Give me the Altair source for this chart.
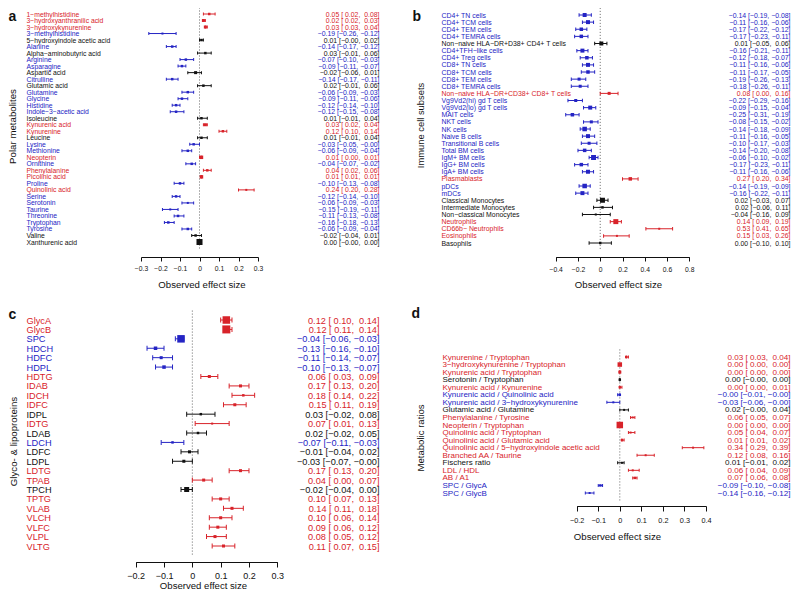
import json
import altair as alt
import pandas as pd

W, H = 783, 583
FONT = "Liberation Sans"
RED, BLUE, BLACK = "#d8232a", "#2424c4", "#111111"
CATS = ["up", "down", "ns"]
MINUS, NBSP = "\u2212", "\u00a0"

# ---------------- panel a : polar metabolites ----------------
a_names = ["1-methylhistidine", "3-hydroxyanthranilic acid", "3-hydroxykynurenine", "3-methylhistidine",
           "5-hydroxyindole acetic acid", "Alanine", "Alpha-aminobutyric acid", "Arginine", "Asparagine",
           "Aspartic acid", "Citrulline", "Glutamic acid", "Glutamine", "Glycine", "Histidine",
           "Indole-3-acetic acid", "Isoleucine", "Kynurenic acid", "Kynurenine", "Leucine", "Lysine",
           "Methionine", "Neopterin", "Ornithine", "Phenylalanine", "Picolinic acid", "Proline",
           "Quinolinic acid", "Serine", "Serotonin", "Taurine", "Threonine", "Tryptophan", "Tyrosine",
           "Valine", "Xanthurenic acid"]
a_est = [0.05, 0.02, 0.03, -0.19, 0.01, -0.14, 0.03, -0.07, -0.09, -0.02, -0.14, 0.02, -0.06, -0.09, -0.12,
         -0.12, 0.01, 0.03, 0.12, 0.01, -0.03, -0.06, 0.01, -0.04, 0.04, 0.01, -0.10, 0.24, -0.12, -0.06,
         -0.15, -0.11, -0.16, -0.06, -0.02, 0.00]
a_lo = [0.02, 0.02, 0.03, -0.26, -0.0, -0.17, -0.01, -0.10, -0.11, -0.06, -0.17, -0.01, -0.09, -0.11, -0.14,
        -0.15, -0.01, 0.02, 0.10, -0.01, -0.05, -0.09, 0.00, -0.07, 0.02, 0.01, -0.13, 0.20, -0.14, -0.09,
        -0.19, -0.13, -0.18, -0.09, -0.04, -0.0]
a_hi = [0.08, 0.03, 0.04, -0.12, 0.02, -0.12, 0.06, -0.03, -0.07, 0.01, -0.11, 0.06, -0.03, -0.06, -0.10,
        -0.08, 0.04, 0.04, 0.14, 0.04, -0.0, -0.04, 0.01, -0.02, 0.06, 0.01, -0.08, 0.28, -0.10, -0.03,
        -0.11, -0.08, -0.13, -0.04, 0.01, 0.00]
a_cat = ["up", "up", "up", "down", "ns", "down", "ns", "down", "down", "ns", "down", "ns", "down", "down",
         "down", "down", "ns", "up", "up", "ns", "down", "down", "up", "down", "up", "up", "down", "up",
         "down", "down", "down", "down", "down", "down", "ns", "ns"]
a_w = [0.08, 0.17, 0.17, 0.0, 0.08, 0.08, 0.08, 0.08, 0.08, 0.17, 0.08, 0.08, 0.08, 0.08, 0.08, 0.08, 0.08,
       0.17, 0.08, 0.08, 0.08, 0.08, 0.25, 0.08, 0.08, 0.25, 0.08, 0.0, 0.08, 0.0, 0.0, 0.08, 0.08, 0.08,
       0.08, 0.67]

# ---------------- panel b : immune cell subsets ----------------
b_names = ["CD4+ TN cells", "CD4+ TCM cells", "CD4+ TEM cells", "CD4+ TEMRA cells",
           "Non-naive HLA-DR+D38+ CD4+ T cells", "CD4+TFH-like cells", "CD4+ Treg cells", "CD8+ TN cells",
           "CD8+ TCM cells", "CD8+ TEM cells", "CD8+ TEMRA cells", "Non-naive HLA-DR+CD38+ CD8+ T cells",
           "Vg9Vd2(hi) gd T cells", "Vg9Vd2(lo) gd T cells", "MAIT cells", "NKT cells", "NK cells",
           "Naive B cells", "Transitional B cells", "Total BM cells", "IgM+ BM cells", "IgG+ BM cells",
           "IgA+ BM cells", "Plasmablasts", "pDCs", "mDCs", "Classical Monocytes", "Intermediate Monocytes",
           "Non-classical Monocytes", "Neutrophils", "CD66b- Neutrophils", "Eosinophils", "Basophils"]
b_est = [-0.14, -0.11, -0.17, -0.17, 0.01, -0.16, -0.12, -0.11, -0.11, -0.19, -0.18, 0.08, -0.22, -0.09,
         -0.25, -0.08, -0.14, -0.11, -0.10, -0.14, -0.06, -0.17, -0.11, 0.27, -0.14, -0.16, 0.02, 0.02,
         -0.04, 0.14, 0.53, 0.15, 0.00]
b_lo = [-0.19, -0.16, -0.22, -0.23, -0.05, -0.21, -0.18, -0.16, -0.17, -0.26, -0.26, 0.00, -0.29, -0.15,
        -0.31, -0.15, -0.18, -0.16, -0.17, -0.20, -0.10, -0.23, -0.16, 0.20, -0.19, -0.22, -0.03, -0.06,
        -0.16, 0.09, 0.41, 0.03, -0.10]
b_hi = [-0.08, -0.06, -0.12, -0.11, 0.06, -0.11, -0.07, -0.06, -0.05, -0.13, -0.11, 0.16, -0.16, -0.04,
        -0.19, -0.02, -0.09, -0.05, -0.03, -0.08, -0.02, -0.11, -0.06, 0.34, -0.09, -0.11, 0.07, 0.11,
        0.09, 0.19, 0.65, 0.26, 0.10]
b_cat = ["down"] * 4 + ["ns"] + ["down"] * 6 + ["up"] + ["down"] * 11 + ["up"] + ["down"] * 2 + \
        ["ns"] * 3 + ["up"] * 3 + ["ns"]
b_w = [0.33, 0.33, 0.25, 0.25, 0.33, 0.33, 0.25, 0.33, 0.25, 0.17, 0.17, 0.17, 0.17, 0.33, 0.25, 0.17,
       0.42, 0.33, 0.17, 0.25, 0.5, 0.25, 0.33, 0.25, 0.42, 0.33, 0.5, 0.08, 0.0, 0.5, 0.0, 0.0, 0.08]

# ---------------- panel c : glyco- & lipoproteins ----------------
c_names = ["GlycA", "GlycB", "SPC", "HDCH", "HDFC", "HDPL", "HDTG", "IDAB", "IDCH", "IDFC", "IDPL", "IDTG",
           "LDAB", "LDCH", "LDFC", "LDPL", "LDTG", "TPAB", "TPCH", "TPTG", "VLAB", "VLCH", "VLFC", "VLPL",
           "VLTG"]
c_est = [0.12, 0.12, -0.04, -0.13, -0.11, -0.10, 0.06, 0.17, 0.18, 0.15, 0.03, 0.07, 0.02, -0.07, -0.01,
         -0.03, 0.17, 0.04, -0.02, 0.10, 0.14, 0.10, 0.09, 0.08, 0.11]
c_lo = [0.10, 0.11, -0.06, -0.16, -0.14, -0.13, 0.03, 0.13, 0.14, 0.11, -0.02, 0.01, -0.02, -0.11, -0.04,
        -0.07, 0.13, 0.00, -0.04, 0.07, 0.11, 0.06, 0.06, 0.05, 0.07]
c_hi = [0.14, 0.14, -0.03, -0.10, -0.07, -0.07, 0.09, 0.20, 0.22, 0.19, 0.08, 0.13, 0.05, -0.03, 0.02,
        -0.0, 0.20, 0.07, 0.00, 0.13, 0.18, 0.14, 0.12, 0.12, 0.15]
c_cat = ["up", "up", "down", "down", "down", "down", "up", "up", "up", "up", "ns", "up", "ns", "down", "ns",
         "ns", "up", "up", "ns", "up", "up", "up", "up", "up", "up"]
c_w = [0.92, 1.0, 0.92, 0.25, 0.17, 0.25, 0.17, 0.17, 0.08, 0.17, 0.08, 0.0, 0.08, 0.08, 0.17, 0.17, 0.17,
       0.17, 0.5, 0.17, 0.17, 0.17, 0.17, 0.17, 0.17]

# ---------------- panel d : metabolic ratios ----------------
d_names = ["Kynurenine / Tryptophan", "3-hydroxykynurenine / Tryptophan", "Kynurenic acid / Tryptophan",
           "Serotonin / Tryptophan", "Kynurenic acid / Kynurenine", "Kynurenic acid / Quinolinic acid",
           "Kynurenic acid / 3-hydroxykynurenine", "Glutamic acid / Glutamine", "Phenylalanine / Tyrosine",
           "Neopterin / Tryptophan", "Quinolinic acid / Tryptophan", "Quinolinic acid / Glutamic acid",
           "Quinolinic acid / 5-hydroxyindole acetic acid", "Branched AA / Taurine", "Fischers ratio",
           "LDL / HDL", "AB / A1", "SPC / GlycA", "SPC / GlycB"]
d_est = [0.03, 0.00, 0.00, 0.00, 0.00, -0.0, -0.03, 0.02, 0.06, 0.00, 0.05, 0.01, 0.34, 0.12, 0.01, 0.06,
         0.07, -0.09, -0.14]
d_lo = [0.03, 0.00, 0.00, -0.0, 0.00, -0.01, -0.06, -0.0, 0.05, 0.00, 0.04, 0.01, 0.29, 0.08, -0.01, 0.04,
        0.06, -0.10, -0.16]
d_hi = [0.04, 0.00, 0.00, 0.00, 0.01, -0.0, -0.0, 0.04, 0.07, 0.00, 0.07, 0.02, 0.39, 0.16, 0.02, 0.09,
        0.08, -0.08, -0.12]
d_cat = ["up", "up", "up", "ns", "up", "down", "down", "ns", "up", "up", "up", "up", "up", "up", "ns", "up",
         "up", "down", "down"]
d_w = [0.08, 0.42, 0.17, 0.08, 0.08, 0.08, 0.0, 0.0, 0.0, 0.75, 0.0, 0.08, 0.0, 0.0, 0.0, 0.0, 0.08, 0.08, 0.0]


def fmt(v, pad):
    s = f"{v:.2f}".replace("-", MINUS)
    return s if (not pad or s.startswith(MINUS)) else NBSP + s


def js(lst):
    return json.dumps(lst, ensure_ascii=False)


def panel(names, est, lo, hi, cat, w, P):
    n = len(names)
    rows = list(range(1, n + 1))
    df = pd.DataFrame(dict(row=rows, est=est, lo=lo, hi=hi, cat=cat, w=w))
    zdf = pd.DataFrame({"x": [0.0], "y0": [0], "y1": [n + 1]})
    labels = [nm.replace("-", MINUS) for nm in names]
    vals = [f"{fmt(e, False)} [{fmt(l, True)}, {fmt(h, True)}]" for e, l, h in zip(est, lo, hi)]
    sp = (P["rowN"] - P["row1"]) / (n - 1)
    ys = alt.Scale(domain=[0, n + 1], range=[P["row1"] - sp, P["rowN"] + sp], nice=False, zero=False)
    xs = alt.Scale(domain=P["xdom"], range=P["xr"], nice=False, zero=False)
    col = alt.Color("cat:N", scale=alt.Scale(domain=CATS, range=[RED, BLUE, BLACK]), legend=None)

    red_rows = [r for r, c in zip(rows, cat) if c == "up"]
    blue_rows = [r for r, c in zip(rows, cat) if c == "down"]
    lab_color = {"condition": [
        {"test": f"indexof({js(red_rows)}, datum.value) >= 0", "value": RED},
        {"test": f"indexof({js(blue_rows)}, datum.value) >= 0", "value": BLUE}],
        "value": BLACK}

    common = dict(grid=False, labelOverlap=False, labelFlush=False, labelLimit=0, labelFont=FONT,
                  titleFont=FONT, titleColor=BLACK, titleFontWeight="normal")

    xaxis = alt.Axis(orient="bottom", offset=P["axy"] - H, values=P["ticks"], format="~g",
                     domainColor=BLACK, tickColor=BLACK, domainWidth=1, tickWidth=1, tickSize=P["tick"],
                     labelPadding=P["xlp"], labelFontSize=P["xfs"], labelColor=BLACK, labelBaseline="top",
                     labelAlign="center", title="Observed effect size", titleFontSize=9.6,
                     titleX=P["xtx"], titleY=P["xty"] - P["axy"], titleAlign="center",
                     titleBaseline="middle", titleAngle=0, **common)
    naxis = alt.Axis(orient="left", offset=-P["xr"][0], values=rows,
                     labelExpr=f"{js(labels)}[datum.value - 1]", labelAlign="left", labelBaseline="middle",
                     labelPadding=P["xr"][0] - P["namex"], labelFontSize=P["nfs"], labelColor=lab_color,
                     domain=False, ticks=False, tickSize=0, title=P["ytitle"], titleAngle=270,
                     titleX=P["ytx"] - P["xr"][0], titleY=P["yty"], titleFontSize=P["ytfs"],
                     titleAlign="center", titleBaseline="middle", **common)
    vaxis = alt.Axis(orient="right", offset=P["valx"] - W, values=rows,
                     labelExpr=f"{js(vals)}[datum.value - 1]", labelAlign="right", labelBaseline="middle",
                     labelPadding=0, labelFontSize=P["vfs"], labelColor=lab_color,
                     domain=False, ticks=False, tickSize=0, title=P["letter"], titleAngle=0,
                     titleX=P["letx"] - P["valx"], titleY=P["lety"], titleFontSize=14,
                     titleAlign="left", titleBaseline="alphabetic",
                     **{**common, "titleFontWeight": "bold"})

    zero = alt.Chart(zdf).mark_rule(color="#555555", strokeDash=[1, 2], strokeWidth=0.9).encode(
        x=alt.X("x:Q", scale=xs, axis=xaxis), y=alt.Y("y0:Q", scale=ys, axis=None), y2="y1:Q")
    bars = alt.Chart(df).mark_rule(strokeWidth=1).encode(
        x=alt.X("lo:Q", scale=xs, axis=xaxis), x2="hi:Q",
        y=alt.Y("row:Q", scale=ys, axis=None), color=col)
    caplo = alt.Chart(df).mark_tick(orient="vertical", size=P["cap"], thickness=1, opacity=1).encode(
        x=alt.X("lo:Q", scale=xs, axis=xaxis), y=alt.Y("row:Q", scale=ys, axis=None), color=col)
    caphi = alt.Chart(df).mark_tick(orient="vertical", size=P["cap"], thickness=1, opacity=1).encode(
        x=alt.X("hi:Q", scale=xs, axis=xaxis), y=alt.Y("row:Q", scale=ys, axis=vaxis), color=col)
    sq = alt.Chart(df).transform_calculate(area="pow(2 + 6 * datum.w, 2)").mark_square(
        filled=True, opacity=1).encode(
        x=alt.X("est:Q", scale=xs, axis=xaxis), y=alt.Y("row:Q", scale=ys, axis=naxis), color=col,
        size=alt.Size("area:Q", scale=None))
    return alt.layer(zero, bars, caplo, caphi, sq).resolve_axis(y="independent")


Pa = dict(xdom=[-0.3, 0.3], xr=[133, 250], ticks=[-0.3, -0.2, -0.1, 0, 0.1, 0.2, 0.3], row1=6, rowN=234,
          axy=249, tick=4, xlp=4.4, xfs=6.75, xtx=193.5, xty=276, namex=18, nfs=6.8,
          ytitle="Polar metabolites", ytx=4.5, yty=118, ytfs=9.7, valx=371, vfs=6.9,
          letter="a", letx=0, lety=12, cap=3)
Pb = dict(xdom=[-0.4, 0.8], xr=[547.7, 681.3], ticks=[-0.4, -0.2, 0, 0.2, 0.4, 0.6, 0.8], row1=7, rowN=235,
          axy=249, tick=4, xlp=5.4, xfs=6.75, xtx=610, xty=276, namex=433, nfs=6.9,
          ytitle="Immune cell subsets", ytx=412, yty=117, ytfs=9.4, valx=782, vfs=6.9,
          letter="b", letx=404, lety=12, cap=3.5)
Pc = dict(xdom=[-0.2, 0.3], xr=[127.7, 269.3], ticks=[-0.2, -0.1, 0, 0.1, 0.2, 0.3], row1=312, rowN=538,
          axy=554, tick=5, xlp=4.2, xfs=9, xtx=195, xty=577, namex=18, nfs=9.2,
          ytitle="Glyco- & lipoproteins", ytx=5, yty=433, ytfs=9.7, valx=371, vfs=9.2,
          letter="c", letx=0, lety=310, cap=5)
Pd = dict(xdom=[-0.2, 0.4], xr=[568.7, 698], ticks=[-0.2, -0.1, 0, 0.1, 0.2, 0.3, 0.4], row1=349, rowN=485,
          axy=498, tick=5, xlp=5.6, xfs=7.3, xtx=609, xty=528, namex=434, nfs=8.0,
          ytitle="Metabolic ratios", ytx=412, yty=429.5, ytfs=9.6, valx=782, vfs=8.1,
          letter="d", letx=403, lety=309, cap=3)

chart = alt.layer(
    panel(a_names, a_est, a_lo, a_hi, a_cat, a_w, Pa),
    panel(b_names, b_est, b_lo, b_hi, b_cat, b_w, Pb),
    panel(c_names, c_est, c_lo, c_hi, c_cat, c_w, Pc),
    panel(d_names, d_est, d_lo, d_hi, d_cat, d_w, Pd),
).resolve_scale(x="independent", y="independent").resolve_axis(x="independent", y="independent").properties(
    width=W, height=H, autosize=alt.AutoSizeParams(type="none"), padding=0
).configure_view(stroke=None)

chart.save("out.html", embed_options={"renderer": "svg", "actions": False})
